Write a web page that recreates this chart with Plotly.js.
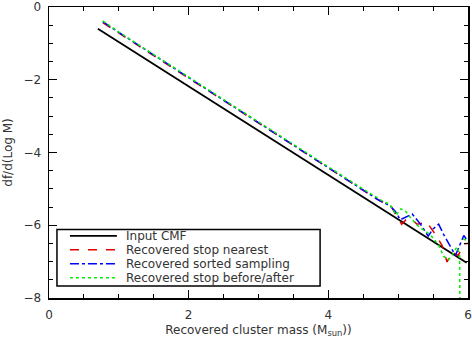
<!DOCTYPE html>
<html>
<head>
<meta charset="utf-8">
<script src="https://cdn.plot.ly/plotly-3.0.1.min.js"></script>
<style>
  html, body { margin: 0; padding: 0; background: #fff; }
  #chart { width: 472px; height: 341px; }
</style>
</head>
<body>
<div id="chart"></div>
<script>
// input cluster mass function (straight power law)
const inputMass = [0.70, 2.0, 4.0, 5.98];
const inputDf = [-0.60, -2.18, -4.62, -7.03];

// recovered CMFs, log mass and df/dlogM
const nearestMass = [0.77, 1.0, 1.5, 2.0, 2.5, 3.0, 3.5, 4.0, 4.3, 4.5, 4.7, 4.8, 4.9, 4.96, 5.05, 5.12, 5.2, 5.27, 5.35, 5.41, 5.53, 5.63, 5.70, 5.77, 5.86, 5.94, 6.0];
const nearestDf = [-0.43, -0.72, -1.34, -1.96, -2.57, -3.19, -3.81, -4.42, -4.79, -5.04, -5.29, -5.38, -5.48, -5.69, -5.97, -5.83, -5.85, -5.97, -5.95, -5.92, -6.24, -6.56, -7.01, -6.74, -6.83, -6.51, -6.50];

const sortedMass = [0.77, 1.0, 1.5, 2.0, 2.5, 3.0, 3.5, 4.0, 4.3, 4.5, 4.74, 4.88, 4.96, 5.03, 5.1, 5.2, 5.32, 5.43, 5.5, 5.58, 5.65, 5.72, 5.82, 5.94, 6.0];
const sortedDf = [-0.40, -0.70, -1.32, -1.95, -2.56, -3.18, -3.80, -4.41, -4.78, -5.03, -5.33, -5.46, -5.62, -5.85, -5.78, -5.69, -5.97, -6.30, -6.10, -5.97, -6.25, -6.50, -6.83, -6.28, -6.45];

const beforeAfterMass = [0.77, 1.0, 1.5, 2.0, 2.5, 3.0, 3.5, 4.0, 4.3, 4.5, 4.8, 4.88, 4.97, 5.04, 5.1, 5.2, 5.3, 5.42, 5.5, 5.58, 5.65, 5.72, 5.78, 5.84, 5.88, 5.885, null, 5.93, 6.0];
const beforeAfterDf = [-0.38, -0.69, -1.31, -1.93, -2.55, -3.16, -3.78, -4.39, -4.76, -5.01, -5.36, -5.42, -5.72, -5.55, -5.60, -5.85, -6.05, -6.20, -6.35, -6.55, -6.85, -6.95, -6.80, -6.60, -6.80, -9.00, null, -6.38, -6.42];

const names = ['Input CMF', 'Recovered stop nearest', 'Recovered sorted sampling', 'Recovered stop before/after'];
const colors = ['#000000', '#e00000', '#0000ff', '#00ee00'];
const dashes = ['solid', 'dash', 'dashdot', 'dot'];
const widths = [1.8, 1.5, 1.5, 1.5];

const font = { family: 'DejaVu Sans, Liberation Sans, sans-serif', size: 12, color: '#333' };

const xs = [inputMass, nearestMass, sortedMass, beforeAfterMass];
const ys = [inputDf, nearestDf, sortedDf, beforeAfterDf];
const traces = names.map((n, i) => ({
  x: xs[i], y: ys[i], name: n, mode: 'lines', connectgaps: false,
  line: { color: colors[i], width: widths[i], dash: dashes[i] }
}));

// legend box drawn by hand so rows can sit as tight as the original
const shapes = [{
  type: 'rect', xref: 'paper', yref: 'paper',
  x0: 0.019, x1: 0.647, y0: 0.041, y1: 0.235,
  line: { color: '#000', width: 1.5 }, fillcolor: '#fff', layer: 'above'
}];
const annotations = [];
const rowY = [0.2135, 0.1655, 0.1175, 0.0695];
names.forEach((n, i) => {
  shapes.push({
    type: 'line', xref: 'paper', yref: 'paper',
    x0: 0.050, x1: 0.162, y0: rowY[i], y1: rowY[i],
    line: { color: colors[i], width: widths[i], dash: dashes[i] }, layer: 'above'
  });
  annotations.push({
    xref: 'paper', yref: 'paper', x: 0.178, y: rowY[i],
    xanchor: 'left', yanchor: 'middle', text: n, showarrow: false, font: font
  });
});

const axisCommon = {
  showgrid: false, zeroline: false,
  showline: true, linecolor: '#000', linewidth: 1.5,
  mirror: 'ticks', ticks: 'inside', ticklen: 8, tickwidth: 1, tickcolor: '#000',
  minor: { ticks: 'inside', ticklen: 4, tickwidth: 1, tickcolor: '#000', dtick: 0.5, showgrid: false },
  tickfont: font, ticklabeloverflow: 'allow'
};

const layout = {
  width: 472, height: 341,
  margin: { l: 49, r: 4, t: 7, b: 43 },
  paper_bgcolor: '#fff', plot_bgcolor: '#fff',
  font: font,
  showlegend: false,
  shapes: shapes,
  annotations: annotations,
  xaxis: Object.assign({}, axisCommon, {
    range: [0, 6], dtick: 2, ticklabelstandoff: 5,
    title: { text: 'Recovered cluster mass (M<sub>sun</sub>))', font: font, standoff: 4 }
  }),
  yaxis: Object.assign({}, axisCommon, {
    range: [-8, 0], dtick: 2, ticklabelstandoff: 4,
    title: { text: 'df/d(Log M)', font: font, standoff: 8 }
  })
};

Plotly.newPlot('chart', traces, layout, { displayModeBar: false, staticPlot: true });
</script>
</body>
</html>
